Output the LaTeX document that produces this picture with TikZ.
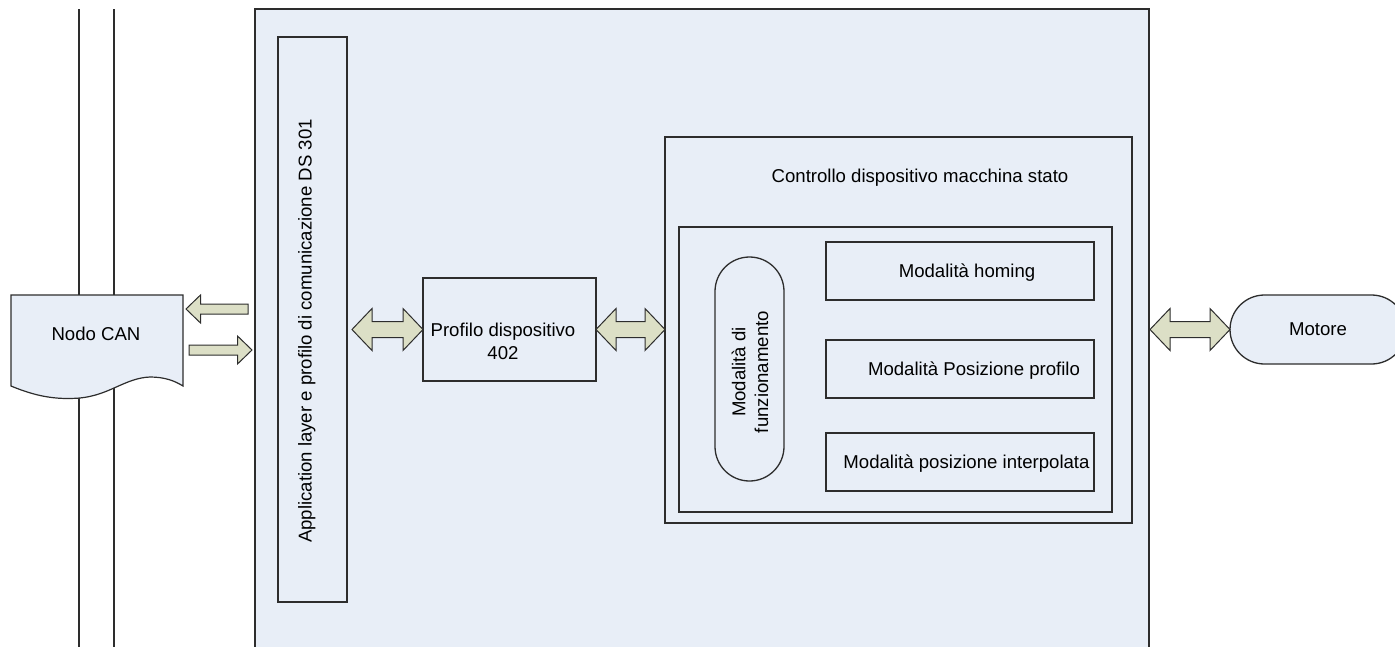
\documentclass[tikz,border=0pt]{standalone}
\usepackage{fontspec}
\setmainfont{Liberation Sans}
\usetikzlibrary{calc}
\definecolor{panel}{RGB}{232,238,247}
\definecolor{arrowfill}{RGB}{220,223,198}
\definecolor{edge}{RGB}{45,45,45}
\tikzset{
  lbl/.style={font=\fontsize{18.6pt}{22.8pt}\selectfont, inner sep=0pt, outer sep=0pt},
  one/.style={lbl, text height=13.3pt, text depth=0pt},
  box/.style={draw=edge, line width=1.3pt, inner sep=0pt, outer sep=0pt, anchor=north west},
  blockarrow/.style={draw=edge, fill=arrowfill, line width=1pt, line join=miter},
  busline/.style={draw=edge, line width=1.2pt},
}
% horizontal block arrow with a head at both ends, from #1 to #2
\newcommand\dblarrow[2]{%
  \draw[blockarrow] (#1) -- ($(#1)+(20,-21)$) -- ($(#1)+(20,-8)$) -- ($(#2)+(-20,-8)$)
    -- ($(#2)+(-20,-21)$) -- (#2) -- ($(#2)+(-20,21)$) -- ($(#2)+(-20,8)$)
    -- ($(#1)+(20,8)$) -- ($(#1)+(20,21)$) -- cycle;}
% horizontal block arrow from tail #1 to tip #2
\newcommand\sglarrow[2]{%
  \draw[blockarrow] ($(#1)+(0,5)$) -- ($(#2)!14.5pt!(#1)+(0,5)$) -- ($(#2)!14.5pt!(#1)+(0,14)$)
    -- (#2) -- ($(#2)!14.5pt!(#1)+(0,-14)$) -- ($(#2)!14.5pt!(#1)+(0,-5)$)
    -- ($(#1)+(0,-5)$) -- cycle;}
\begin{document}
\begin{tikzpicture}[x=1pt,y=-1pt]
\useasboundingbox (0,0) rectangle (1395,646);
\clip (0,0) rectangle (1395,646);

% CAN bus lines
\draw[busline] (79,9) -- (79,660);
\draw[busline] (114,9) -- (114,660);

% CAN node (document shape)
\coordinate (canNE) at (183,295);
\draw[draw=edge, line width=1.2pt, fill=panel] (11,295) -- (canNE) -- (183,386)
  .. controls (175,381) and (165,377) .. (150,377)
  .. controls (125,378) and (110,395) .. (80,398)
  .. controls (55,400) and (35,396) .. (11,386) -- cycle;
\node[one] (can) at (96,334) {Nodo CAN};

% device panel
\node[box, fill=panel, minimum width=894pt, minimum height=700pt] (dev) at (255,9) {};

% communication layer
\node[box, minimum width=69pt, minimum height=565pt] (app) at (278,37) {};
\node[one, rotate=90] (appt) at (305,331) {Application layer e profilo di comunicazione DS 301};

% device profile
\node[box, minimum width=173pt, minimum height=103pt] (prof) at (423,278) {};
\node[lbl, align=center] (proft) at (503,341.5) {Profilo dispositivo\\402};

% state machine control
\node[box, minimum width=467pt, minimum height=386pt] (ctl) at (665,137) {};
\node[one] (ctlt) at (920,176) {Controllo dispositivo macchina stato};
\node[box, minimum width=433pt, minimum height=285pt] (modes) at (679,227) {};
\node[box, rounded corners=34.5pt, minimum width=69pt, minimum height=224pt] (funz) at (715,257) {};
\node[lbl, rotate=90, align=center] (funzt) at (750,372) {Modalità di\\funzionamento};
\node[box, minimum width=268pt, minimum height=58pt] (hom) at (826,242) {};
\node[one] (homt) at (967,271) {Modalità homing};
\node[box, minimum width=268pt, minimum height=58pt] (pp) at (826,340) {};
\node[one] (ppt) at (974,369) {Modalità Posizione profilo};
\node[box, minimum width=268pt, minimum height=58pt] (ip) at (826,433) {};
\node[one] (ipt) at (966.5,462) {Modalità posizione interpolata};

% motor
\node[box, lbl, fill=panel, rounded corners=34.5pt, minimum width=176pt, minimum height=69pt] (mot) at (1230,295) {Motore};

% links
\coordinate (outTip) at ($(canNE)+(3,14)$);
\coordinate (outTail) at ($(dev.north west |- outTip)+(-7,0)$);
\coordinate (inTail) at ($(canNE)+(6,55)$);
\coordinate (inTip) at ($(dev.north west |- inTail)+(-3,0)$);
\sglarrow{outTail}{outTip}
\sglarrow{inTail}{inTip}

\coordinate (aL) at ($(app.east |- prof.west)+(5,0)$);
\dblarrow{aL}{prof.west}
\coordinate (bR) at (ctl.west |- prof.east);
\dblarrow{prof.east}{bR}
\coordinate (cL) at ($(dev.east |- mot.west)+(1,0)$);
\dblarrow{cL}{mot.west}
\end{tikzpicture}
\end{document}
